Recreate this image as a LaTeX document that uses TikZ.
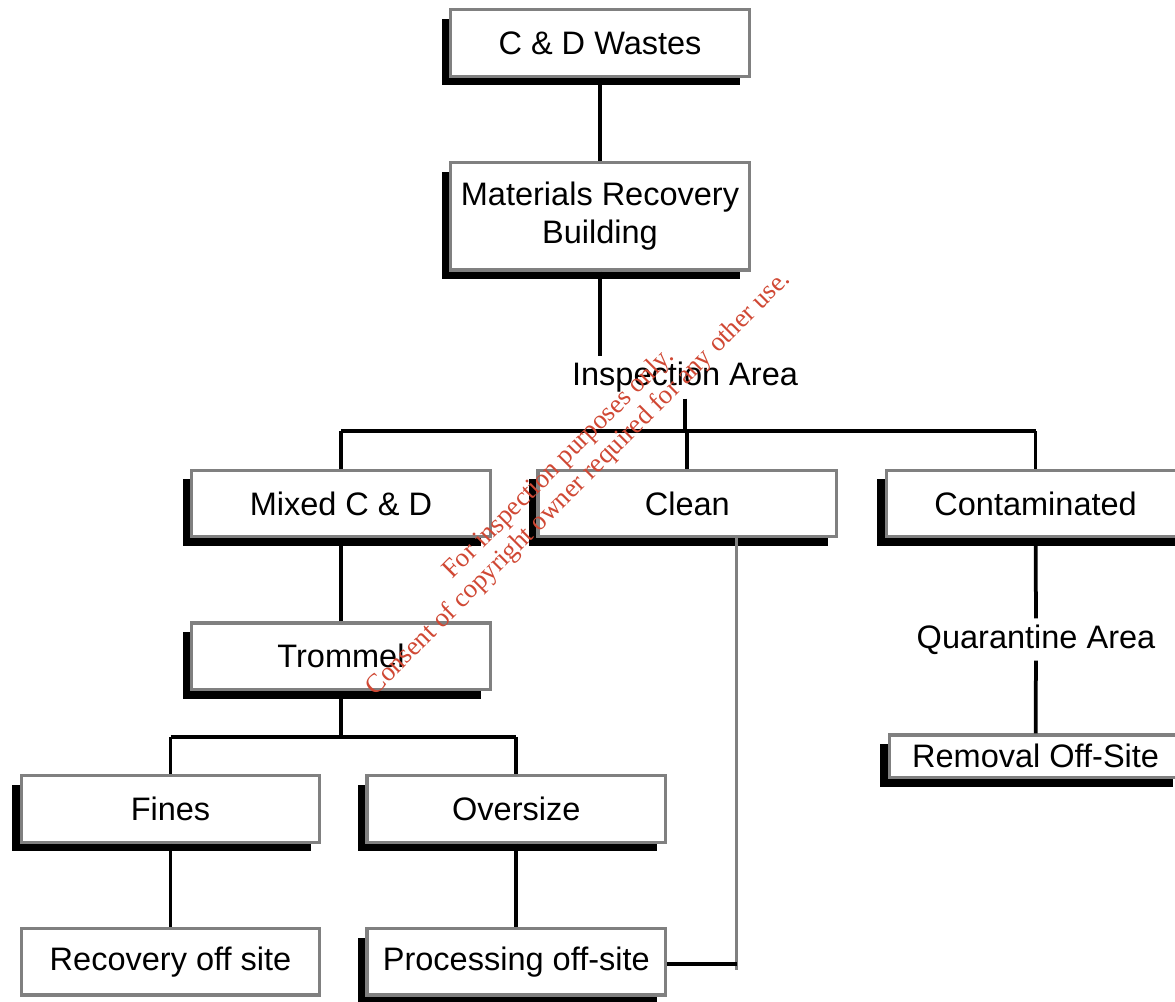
\documentclass[tikz,border=0pt]{standalone}
\usepackage{fontspec}
\setmainfont{Liberation Sans}
\newfontfamily\wmfont{Liberation Serif}
\usepackage{xcolor}
\usetikzlibrary{positioning,shadows,calc}

\definecolor{boxgray}{RGB}{128,128,128}
\definecolor{wmred}{RGB}{208,72,52}

\begin{document}
\begin{tikzpicture}[
    node distance=1.66cm and 0.9cm,
    box/.style={rectangle, draw=boxgray, fill=white, line width=0.066cm, minimum width=5.97cm, minimum height=1.33cm, inner sep=0pt, align=center, font=\fontsize{18.5}{21.5}\selectfont},
    blackshadow/.style={drop shadow={shadow xshift=-0.18cm, shadow yshift=-0.18cm, fill=black, opacity=1}},
    label/.style={font=\fontsize{18.5}{21.5}\selectfont, inner sep=0.12cm},
    link/.style={line width=0.075cm},
    feed/.style={line width=0.06cm, draw=boxgray},
    wmtext/.style={rotate=45, text=wmred, align=center, inner sep=0pt, font=\wmfont\fontsize{15.2}{16}\selectfont}
]
    \useasboundingbox (0,0) rectangle (23.5,-20.02);

    \node[box, blackshadow] (waste) at (12,-0.86) {C \& D Wastes};
    \node[box, blackshadow, minimum height=2.15cm, below=of waste] (mrb) {Materials Recovery\\Building};
    \node[label] (insp) at (13.7,-7.54) {Inspection Area};
    \coordinate (bus) at (0,-8.62);

    \node[box, blackshadow] (mixed) at (6.82,-10.07) {Mixed C \& D};
    \node[box, blackshadow, right=0.89cm of mixed] (clean) {Clean};
    \node[box, blackshadow, right=0.93cm of clean] (cont) {Contaminated};

    \node[box, blackshadow, below=of mixed] (trommel) {Trommel};
    \coordinate (bus2) at (0,-14.74);
    \node[box, blackshadow] (fines) at (3.41,-16.18) {Fines};
    \node[box, blackshadow, right=0.88cm of fines] (oversize) {Oversize};
    \node[box, below=of fines] (recovery) {Recovery off site};
    \node[box, blackshadow, below=of oversize] (proc) {Processing off-site};

    \node[label] (quar) at (20.72,-12.79) {Quarantine Area};
    \node[box, blackshadow, minimum width=5.85cm, minimum height=0.85cm, below=3.9cm of cont] (removal) {Removal Off-Site};

    % tree lines
    \draw[link] (waste) -- (mrb);
    \draw[link] (mrb) -- (mrb |- insp.north);
    \draw[link] (insp.south) -- (insp.south |- bus);
    \draw[link] (mixed.north |- bus) -- (cont.north |- bus);
    \foreach \n in {mixed,clean,cont}
        \draw[link] (\n.north |- bus) -- (\n.north);

    \draw[link] (mixed) -- (trommel);
    \draw[link] (trommel) -- (trommel |- bus2);
    \draw[link] (fines.north |- bus2) -- (oversize.north |- bus2);
    \foreach \n in {fines,oversize}
        \draw[link] (\n.north |- bus2) -- (\n.north);
    \draw[link] (fines) -- (recovery);
    \draw[link] (oversize) -- (proc);

    \draw[link] (cont) -- (quar);
    \draw[link] (quar) -- (removal);

    % clean material joins off-site processing
    \coordinate (cleanout) at ([xshift=0.99cm]clean.south);
    \coordinate (feedend) at ($(proc.east -| cleanout)+(0,-0.16)$);
    \draw[feed] (cleanout) -- (feedend);
    \draw[link] ([yshift=-0.04cm]proc.east) -- ([yshift=-0.04cm]proc.east -| cleanout);

    \node[wmtext] (wm) at (11.38,-9.48) {For inspection purposes only.\\Consent of copyright owner required for any other use.};
\end{tikzpicture}
\end{document}
